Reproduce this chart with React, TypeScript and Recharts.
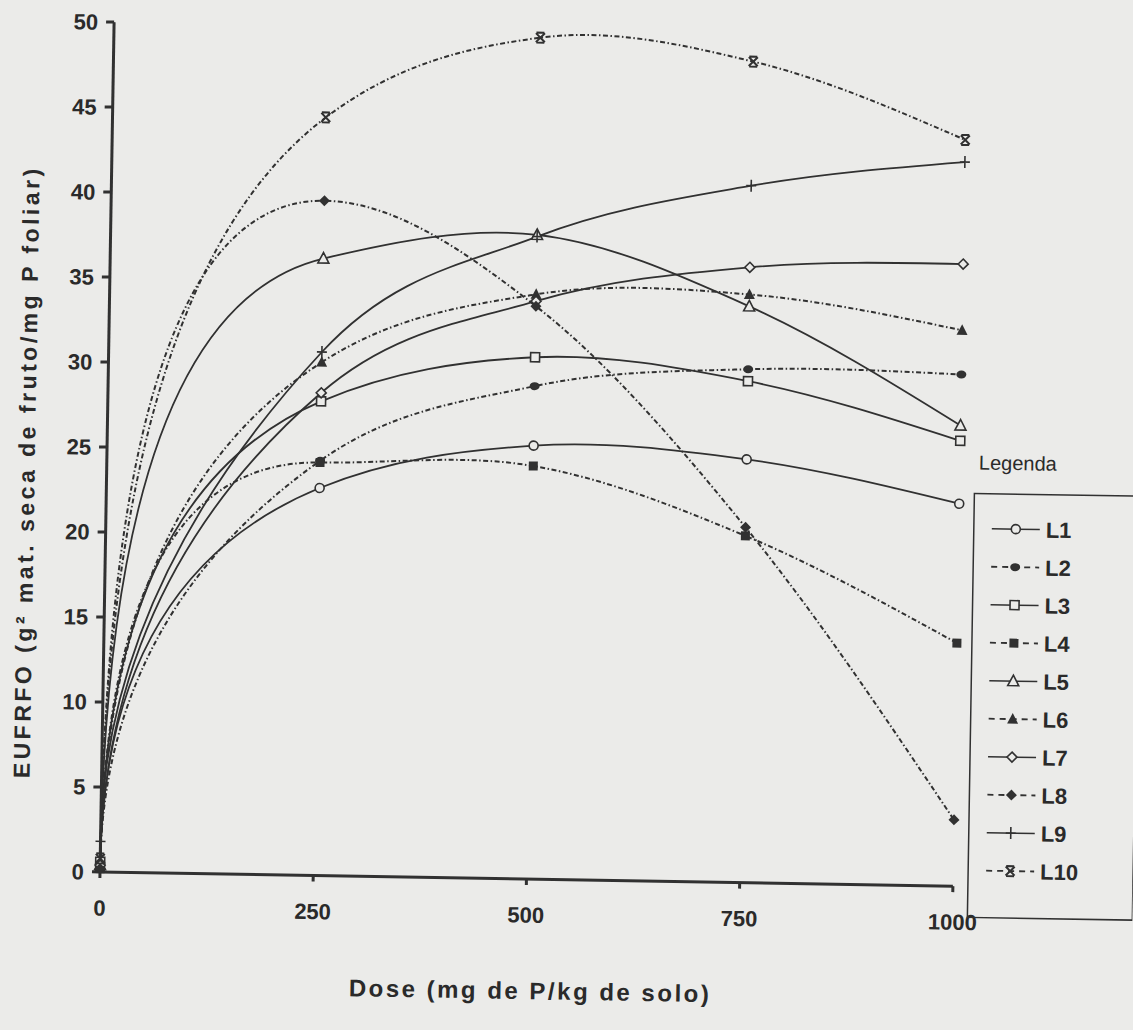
import React from "react"
import { LineChart, Line, XAxis, YAxis } from "recharts"

// P doses (mg de P/kg de solo)
const doses = [0, 250, 500, 750, 1000]
const xTicks = [0, 250, 500, 750, 1000]
const yTicks = [0, 5, 10, 15, 20, 25, 30, 35, 40, 45, 50]

// EUFRFO per line, one value per dose
const l1 = [0.5, 22.8, 25.5, 24.9, 22.5]
const l2 = [0.3, 24.4, 29.0, 30.2, 30.1]
const l3 = [0.6, 27.9, 30.7, 29.5, 26.2]
const l4 = [0.2, 24.3, 24.3, 20.4, 14.3]
const l5 = [0.4, 36.3, 37.9, 33.9, 27.1]
const l6 = [0.3, 30.2, 34.4, 34.6, 32.7]
const l7 = [0.4, 28.4, 34.0, 36.2, 36.6]
const l8 = [0.2, 39.7, 33.7, 20.9, 3.9]
const l9 = [1.8, 30.8, 37.8, 41.0, 42.6]
const l10 = [0.8, 44.6, 49.5, 48.3, 43.9]

const seriesNames = ["L1", "L2", "L3", "L4", "L5", "L6", "L7", "L8", "L9", "L10"]

type MarkerKind =
  | "circleOpen"
  | "circleFilled"
  | "squareOpen"
  | "squareFilled"
  | "triangleOpen"
  | "triangleFilled"
  | "diamondOpen"
  | "diamondFilled"
  | "plus"
  | "star"

const series: { name: string; values: number[]; marker: MarkerKind; dashed: boolean }[] = [
  { name: seriesNames[0], values: l1, marker: "circleOpen", dashed: false },
  { name: seriesNames[1], values: l2, marker: "circleFilled", dashed: true },
  { name: seriesNames[2], values: l3, marker: "squareOpen", dashed: false },
  { name: seriesNames[3], values: l4, marker: "squareFilled", dashed: true },
  { name: seriesNames[4], values: l5, marker: "triangleOpen", dashed: false },
  { name: seriesNames[5], values: l6, marker: "triangleFilled", dashed: true },
  { name: seriesNames[6], values: l7, marker: "diamondOpen", dashed: false },
  { name: seriesNames[7], values: l8, marker: "diamondFilled", dashed: true },
  { name: seriesNames[8], values: l9, marker: "plus", dashed: false },
  { name: seriesNames[9], values: l10, marker: "star", dashed: true },
]

const data = doses.map((dose, i) => {
  const row: Record<string, number> = { dose }
  series.forEach((s) => {
    row[s.name] = s.values[i]
  })
  return row
})

const INK = "#313131"
const PAPER = "#ebebe9"
const FONT = "'Liberation Sans', Arial, sans-serif"
const DASH = "5 2.5 1.5 2.5"

// Response-curve look: the first segment leaves the origin vertically
// (square-root like rise), the rest are cubic Hermite segments.
function responseCurve(context: any) {
  let xs: number[] = []
  let ys: number[] = []
  return {
    areaStart() {},
    areaEnd() {},
    lineStart() {
      xs = []
      ys = []
    },
    point(x: number, y: number) {
      xs.push(+x)
      ys.push(+y)
    },
    lineEnd() {
      const n = xs.length
      if (n === 0) return
      context.moveTo(xs[0], ys[0])
      if (n === 1) return
      if (n === 2) {
        context.lineTo(xs[1], ys[1])
        return
      }
      const s: number[] = []
      for (let i = 0; i < n - 1; i++) s.push((ys[i + 1] - ys[i]) / (xs[i + 1] - xs[i]))
      const m: number[] = new Array(n).fill(0)
      const h0 = xs[1] - xs[0]
      const h1 = xs[2] - xs[1]
      if (s[0] * s[1] > 0) {
        const p = (s[0] * h1 + s[1] * h0) / (h0 + h1)
        m[1] = Math.sign(s[0]) * 2 * Math.min(Math.abs(s[0]), Math.abs(s[1]), 0.5 * Math.abs(p))
      }
      for (let i = 2; i < n - 1; i++) m[i] = (ys[i + 1] - ys[i - 1]) / (xs[i + 1] - xs[i - 1])
      if (n > 3) m[n - 1] = (3 * s[n - 2] - m[n - 2]) / 2
      else m[n - 1] = s[n - 2]

      let qy = ys[1] - m[1] * h0
      const lo = Math.min(ys[0], ys[1])
      const hi = Math.max(ys[0], ys[1])
      qy = Math.max(lo, Math.min(hi, qy))
      context.quadraticCurveTo(xs[0], qy, xs[1], ys[1])

      for (let i = 1; i < n - 1; i++) {
        const h = xs[i + 1] - xs[i]
        context.bezierCurveTo(
          xs[i] + h / 3,
          ys[i] + (m[i] * h) / 3,
          xs[i + 1] - h / 3,
          ys[i + 1] - (m[i + 1] * h) / 3,
          xs[i + 1],
          ys[i + 1]
        )
      }
    },
  }
}

function Marker({ kind, cx, cy }: { kind: MarkerKind; cx: number; cy: number }) {
  const s = 5
  switch (kind) {
    case "circleOpen":
      return <circle cx={cx} cy={cy} r={4.5} fill={PAPER} stroke={INK} strokeWidth={1.6} />
    case "circleFilled":
      return <ellipse cx={cx} cy={cy} rx={5} ry={4} fill={INK} />
    case "squareOpen":
      return <rect x={cx - 4.5} y={cy - 4.5} width={9} height={9} fill={PAPER} stroke={INK} strokeWidth={1.6} />
    case "squareFilled":
      return <rect x={cx - 4.5} y={cy - 4.5} width={9} height={9} fill={INK} />
    case "triangleOpen":
      return (
        <polygon
          points={`${cx},${cy - s - 1} ${cx + s + 0.5},${cy + s - 0.5} ${cx - s - 0.5},${cy + s - 0.5}`}
          fill={PAPER}
          stroke={INK}
          strokeWidth={1.6}
        />
      )
    case "triangleFilled":
      return (
        <polygon
          points={`${cx},${cy - s - 1} ${cx + s + 0.5},${cy + s - 0.5} ${cx - s - 0.5},${cy + s - 0.5}`}
          fill={INK}
        />
      )
    case "diamondOpen":
      return (
        <polygon
          points={`${cx},${cy - s} ${cx + s},${cy} ${cx},${cy + s} ${cx - s},${cy}`}
          fill={PAPER}
          stroke={INK}
          strokeWidth={1.6}
        />
      )
    case "diamondFilled":
      return (
        <polygon
          points={`${cx},${cy - s - 0.5} ${cx + s + 0.5},${cy} ${cx},${cy + s + 0.5} ${cx - s - 0.5},${cy}`}
          fill={INK}
        />
      )
    case "plus":
      return (
        <path
          d={`M${cx - 5},${cy} H${cx + 5} M${cx},${cy - 6} V${cy + 6}`}
          stroke={INK}
          strokeWidth={1.6}
          fill="none"
        />
      )
    case "star":
      return (
        <path
          d={`M${cx - 4.5},${cy - 4.5} L${cx + 4.5},${cy + 4.5} M${cx + 4.5},${cy - 4.5} L${cx - 4.5},${cy + 4.5} M${cx - 4},${cy - 5} H${cx + 4} M${cx - 4},${cy + 5} H${cx + 4}`}
          stroke={INK}
          strokeWidth={2}
          fill="none"
        />
      )
  }
}

function LegendBox() {
  const rowY0 = 514
  const step = 38
  return (
    <g>
      <text x={972} y={455} fontFamily={FONT} fontSize={20} fill="#2a2a2a">
        Legenda
      </text>
      <rect x={968} y={479} width={165} height={424} fill="none" stroke={INK} strokeWidth={1.5} />
      {series.map((s, i) => {
        const y = rowY0 + i * step
        return (
          <g key={s.name}>
            <line
              x1={986}
              x2={1034}
              y1={y}
              y2={y}
              stroke={INK}
              strokeWidth={s.dashed ? 1.8 : 1.5}
              strokeDasharray={s.dashed ? "6 5" : undefined}
            />
            <Marker kind={s.marker} cx={1010} cy={y} />
            <text x={1040} y={y + 8} fontFamily={FONT} fontSize={22} fontWeight="bold" fill="#2a2a2a">
              {s.name}
            </text>
          </g>
        )
      })}
    </g>
  )
}

const tickStyle = { fontSize: 22, fontWeight: "bold", fill: "#2a2a2a", fontFamily: FONT }

export default function App() {
  return (
    <div
      style={{
        position: "absolute",
        left: 0,
        top: 0,
        width: 1133,
        height: 1030,
        background: PAPER,
        overflow: "hidden",
      }}
    >
      <div
        style={{
          position: "absolute",
          left: 0,
          top: 0,
          width: 1133,
          height: 1030,
          transform: "rotate(0.95deg)",
          transformOrigin: "100px 872px",
        }}
      >
        <LineChart
          width={1133}
          height={1030}
          data={data}
          margin={{ top: 22, right: 180, bottom: 128, left: 40 }}
        >
          <XAxis
            dataKey="dose"
            type="number"
            domain={[0, 1000]}
            ticks={xTicks}
            height={30}
            tick={tickStyle}
            tickSize={6}
            tickMargin={22}
            axisLine={{ stroke: INK, strokeWidth: 3 }}
            tickLine={{ stroke: INK, strokeWidth: 3 }}
          />
          <YAxis
            type="number"
            domain={[0, 50]}
            ticks={yTicks}
            width={60}
            tick={tickStyle}
            tickSize={8}
            tickMargin={8}
            axisLine={{ stroke: INK, strokeWidth: 3 }}
            tickLine={{ stroke: INK, strokeWidth: 3 }}
          />
          {series.map((s) => (
            <Line
              key={s.name}
              type={responseCurve as any}
              dataKey={s.name}
              stroke={INK}
              strokeWidth={s.dashed ? 2 : 1.8}
              strokeDasharray={s.dashed ? DASH : undefined}
              dot={(p: any) => (
                <g key={`${s.name}-${p.index}`}>
                  {p.cx != null && p.cy != null ? <Marker kind={s.marker} cx={p.cx} cy={p.cy} /> : null}
                </g>
              )}
              activeDot={false}
              isAnimationActive={false}
            />
          ))}
        </LineChart>
        <svg
          width={1133}
          height={1030}
          style={{ position: "absolute", left: 0, top: 0, pointerEvents: "none" }}
        >
          <text
            x={532}
            y={992}
            textAnchor="middle"
            fontFamily={FONT}
            fontSize={24}
            fontWeight="bold"
            letterSpacing={2.5}
            fill="#2a2a2a"
          >
            Dose (mg de P/kg de solo)
          </text>
          <text
            transform="translate(20,473) rotate(-90)"
            textAnchor="middle"
            dominantBaseline="central"
            fontFamily={FONT}
            fontSize={23}
            fontWeight="bold"
            letterSpacing={3.5}
            fill="#2a2a2a"
          >
            EUFRFO (g² mat. seca de fruto/mg P foliar)
          </text>
          <LegendBox />
        </svg>
      </div>
    </div>
  )
}
